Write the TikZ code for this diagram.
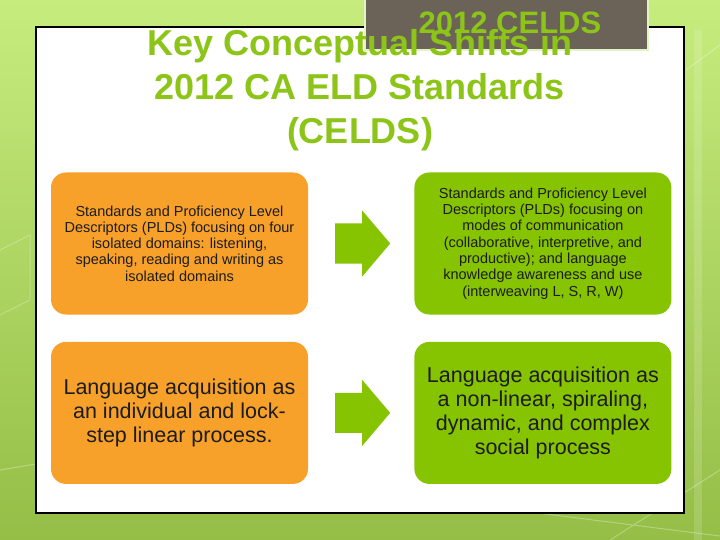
\documentclass[tikz,border=0pt]{standalone}
\usepackage{fontspec}
\setmainfont{Liberation Sans}
\usepackage{tikz}
\usetikzlibrary{positioning,backgrounds}
\definecolor{celdsgreen}{HTML}{86C300}
\definecolor{titlegreen}{HTML}{8CC418}
\definecolor{celdsorange}{HTML}{F8A12A}
\definecolor{tabbrown}{HTML}{6B6357}
\definecolor{tabrim}{HTML}{E2F3C6}
\definecolor{bgtop}{HTML}{C6EC7E}
\definecolor{bgbottom}{HTML}{94BE46}
\definecolor{boxtext}{HTML}{1C1C1C}
\tikzstyle{shiftbox}=[rounded corners=15pt, minimum width=257pt, minimum height=142pt, align=center, inner sep=0pt, text=boxtext]
\tikzstyle{oldbox}=[shiftbox, fill=celdsorange]
\tikzstyle{newbox}=[shiftbox, fill=celdsgreen]
\tikzstyle{smalltext}=[font=\fontsize{14.5}{16.3}\selectfont]
\tikzstyle{bigtext}=[font=\fontsize{21.5}{24}\selectfont]

\begin{document}
\begin{tikzpicture}[x=1pt,y=-1pt]
\useasboundingbox (0,0) rectangle (720,540);
\shade[top color=bgtop, bottom color=bgbottom] (0,0) rectangle (720,540);
% faint lines of the backdrop
\draw[white, opacity=0.3, line width=1pt] (0,470) -- (120,450) (530,512) -- (720,536) (610,540) -- (720,470) (686,70) -- (720,45);
\draw[white, opacity=0.25, line width=1pt] (0,250) -- (30,235) -- (30,300) -- (0,315);
\draw[white, opacity=0.15, line width=8pt] (698,30) -- (698,540);
\draw[fill=white, line width=1.5pt] (36,27) rectangle (684,513);
% the tab in the corner
\draw[fill=tabbrown, draw=tabrim, line width=2.5pt] (365,-5) rectangle (648,50);
\node[text=titlegreen, font=\bfseries\fontsize{36}{44}\selectfont, align=center] (title) at (360,90) {Key Conceptual Shifts in\\2012 CA ELD Standards\\(CELDS)};
\node[text=titlegreen, font=\bfseries\fontsize{31}{31}\selectfont] (tab) at (510,23) {2012 CELDS};
% old and new views
\node[oldbox, smalltext] (old1) at (179.5,243.5) {Standards and Proficiency Level\\Descriptors (PLDs) focusing on four\\isolated domains: listening,\\speaking, reading and writing as\\isolated domains};
\node[newbox, smalltext, right=106pt of old1] (new1) {Standards and Proficiency Level\\Descriptors (PLDs) focusing on\\modes of communication\\(collaborative, interpretive, and\\productive); and language\\knowledge awareness and use\\(interweaving L, S, R, W)};
\node[oldbox, bigtext, below=27pt of old1] (old2) {Language acquisition as\\an individual and lock-\\step linear process.};
\node[newbox, bigtext, right=106pt of old2] (new2) {Language acquisition as\\a non-linear, spiraling,\\dynamic, and complex\\social process};
% block arrows
\coordinate[right=27pt of old1] (a1);
\coordinate[right=27pt of old2] (a2);
\foreach \a in {a1,a2}
  \fill[celdsgreen] (\a) ++(0,-20) -- ++(27,0) -- ++(0,-13) -- ++(28,33) -- ++(-28,33) -- ++(0,-13) -- ++(-27,0) -- cycle;
\end{tikzpicture}
\end{document}
